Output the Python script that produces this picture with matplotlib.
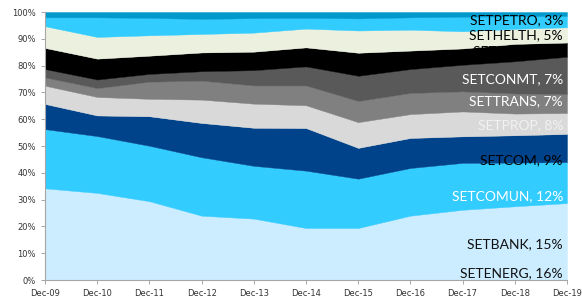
"""Stacked sector weights of the SET index, Dec-09 .. Dec-19."""
import matplotlib

matplotlib.use("Agg")
import matplotlib.pyplot as plt
import numpy as np

years = ["Dec-09", "Dec-10", "Dec-11", "Dec-12", "Dec-13", "Dec-14",
         "Dec-15", "Dec-16", "Dec-17", "Dec-18", "Dec-19"]

# layer thickness in % of index, bottom to top
energ_bank = [34.2, 32.5, 29.4, 24.0, 22.9, 19.4, 19.4, 24.0, 26.2, 27.5, 28.7]
comun = [22.1, 21.2, 20.7, 21.8, 19.7, 21.4, 18.4, 17.8, 17.5, 16.3, 15.3]
com = [9.4, 7.7, 11.0, 12.8, 14.2, 15.9, 11.5, 11.2, 9.9, 10.2, 10.5]
prop = [6.8, 6.9, 6.5, 8.7, 9.0, 8.5, 9.6, 8.9, 9.3, 8.1, 7.8]
trans = [3.1, 3.3, 6.4, 7.1, 6.8, 7.4, 7.9, 7.9, 7.5, 7.5, 7.1]
conmt = [3.1, 3.2, 2.9, 3.5, 5.7, 7.1, 9.4, 8.9, 9.9, 12.0, 13.9]
food = [7.9, 7.8, 6.8, 7.0, 6.9, 7.1, 8.6, 6.9, 6.1, 6.5, 5.3]
helth = [8.1, 8.1, 7.6, 6.9, 7.1, 7.0, 8.3, 7.8, 6.4, 5.6, 5.7]
petro = [3.3, 7.3, 6.5, 5.6, 5.4, 4.0, 4.5, 4.6, 5.4, 4.7, 4.2]
other = [2.0, 2.0, 2.2, 2.6, 2.3, 2.2, 2.4, 2.0, 1.8, 1.6, 1.5]

layers = [energ_bank, comun, com, prop, trans, conmt, food, helth, petro, other]
colors = ["#CCECFF", "#33CCFF", "#00438A", "#D9D9D9", "#808080",
          "#595959", "#000000", "#EBF1DE", "#33CCFF", "#0099CC"]

# right-hand labels: text, y position (%), colour
labels = [("SETPETRO, 3%", 97.1, "black"), ("SETHELTH, 5%", 91.5, "black"),
          ("SETFOOD, 6%", 85.4, "black"), ("SETCONMT, 7%", 75.0, "white"),
          ("SETTRANS, 7%", 66.7, "white"), ("SETPROP, 8%", 57.7, "#F2F2F2"),
          ("SETCOM, 9%", 44.9, "black"), ("SETCOMUN, 12%", 31.2, "white"),
          ("SETBANK, 15%", 13.2, "#111111"), ("SETENERG, 16%", 2.6, "#111111")]

x = np.arange(len(years))
vals = np.array(layers)
vals = vals / vals.sum(axis=0) * 100

fig = plt.figure(figsize=(5.82, 2.98), dpi=100)
ax = fig.add_axes([45 / 582, 1 - 280 / 298, 522 / 582, 268 / 298])
ax.stackplot(x, vals, colors=colors, linewidth=0.3, edgecolor="face")

ax.set_xlim(0, len(years) - 1); ax.set_ylim(0, 100)
ax.set_xticks(x, years)
ax.set_yticks(range(0, 101, 10), [f"{v}%" for v in range(0, 101, 10)])
ax.tick_params(labelsize=6, colors="#333333", length=3, width=0.7)
ax.tick_params(axis="both", color="#A6A6A6")
for s in ("top", "right"):
    ax.spines[s].set_visible(False)
for s in ("left", "bottom"):
    ax.spines[s].set_color("#A6A6A6"); ax.spines[s].set_linewidth(0.8)

xt = (563 - 45) / 522
for txt, y, c in labels:
    ax.text(xt, y, txt, transform=ax.get_yaxis_transform(), ha="right",
            va="center", fontsize=10, color=c, family=["Lato", "DejaVu Sans"])

fig.savefig("out.png", dpi=100)
